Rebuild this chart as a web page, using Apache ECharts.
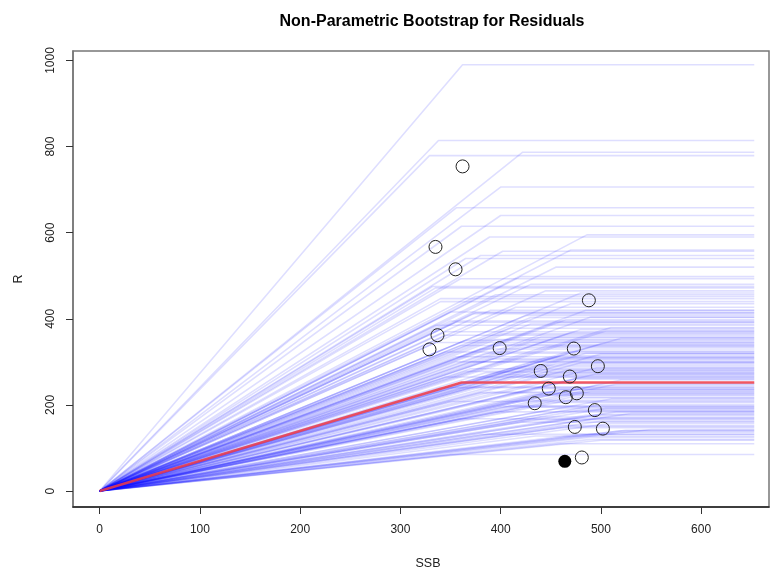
<!DOCTYPE html>
<html>
<head>
<meta charset="utf-8">
<script src="https://cdn.jsdelivr.net/npm/echarts@6/dist/echarts.min.js"></script>
<style>
  html, body { margin:0; padding:0; background:#fff; }
  #chart { width:770px; height:575px; }
</style>
</head>
<body>
<div id="chart"></div>
<script>
// tick labels
var xTicks = [0, 100, 200, 300, 400, 500, 600];
var yTicks = [0, 200, 400, 600, 800, 1000];

// bootstrap hockey sticks: SSB where the plateau starts, and plateau level
var bootBreak = [362, 338, 329, 422, 400, 356, 400, 361, 486, 389,
                 402, 470, 380, 420, 360, 332, 445, 395, 340, 470,
                 415, 350, 490, 372, 430, 455, 335, 480, 400, 440,
                 365, 500, 420, 345, 460, 390, 480, 430, 370, 450,
                 410, 495, 440, 380, 470, 420, 500, 455, 395, 485,
                 430, 510, 460, 520, 490, 500, 460, 350, 350, 410,
                 470, 360, 430, 380, 500, 445, 355, 415, 465, 400,
                 520, 440, 370, 490, 430, 510, 450, 400, 480, 530,
                 440, 500, 460, 550, 480, 520, 500, 420, 460, 345,
                 385, 470, 520, 390, 340, 455, 365, 430, 480, 510,
                 335, 375, 425, 465, 505, 345, 395, 445, 485, 355,
                 405, 455, 495, 365, 415, 475, 515, 340, 390, 440,
                 480, 350, 410, 460, 500, 360, 420, 470, 525, 380,
                 435, 490, 370, 425, 475, 335, 385, 450, 505, 345,
                 400, 460, 515, 355, 410, 465, 495, 375, 430, 485];
var bootPlateau = [990, 814, 779, 787, 706, 658, 640, 615, 595, 590,
                   557, 560, 547, 498, 493, 475, 465, 456, 447, 435,
                   427, 416, 404, 412, 403, 392, 385, 375, 365, 358,
                   350, 342, 334, 323, 315, 307, 298, 292, 284, 274,
                   265, 245, 238, 228, 218, 211, 201, 191, 184, 176,
                   166, 157, 147, 137, 125, 118, 110, 85, 395, 378,
                   368, 338, 346, 330, 318, 310, 300, 288, 280, 270,
                   258, 250, 242, 232, 224, 214, 206, 196, 188, 180,
                   172, 162, 152, 143, 132, 140, 170, 195, 235, 265,
                   275, 325, 355, 420, 440, 520, 540, 480, 460, 380,
                   472, 452, 408, 398, 372, 362, 352, 336, 320, 312,
                   304, 296, 286, 278, 268, 260, 248, 240, 230, 222,
                   216, 208, 198, 186, 178, 168, 160, 150, 141, 132,
                   128, 120, 300, 282, 262, 345, 320, 226, 192, 370,
                   340, 236, 184, 392, 356, 310, 272, 414, 388, 420];
var ssbEnd = 653;

// fitted hockey stick
var fitBreak = 361;
var fitPlateau = 252;

// observations
var obsSSB = [362, 335, 355, 488, 337, 329, 399, 473, 497, 440,
              469, 448, 476, 465, 434, 494, 474, 502, 481];
var obsR = [754, 567, 515, 443, 362, 329, 332, 331, 290, 279,
            266, 238, 227, 218, 204, 188, 149, 145, 78];
var lastSSB = [464];
var lastR = [69];

var series = [];
for (var i = 0; i < bootBreak.length; i++) {
  series.push({
    type: 'line',
    data: [[0, 0], [bootBreak[i], bootPlateau[i]], [ssbEnd, bootPlateau[i]]],
    showSymbol: false,
    silent: true,
    lineStyle: { color: 'rgba(0,0,255,0.13)', width: 1.6 },
    z: 2
  });
}
series.push({
  type: 'line',
  data: [[0, 0], [fitBreak, fitPlateau], [ssbEnd, fitPlateau]],
  showSymbol: false,
  silent: true,
  lineStyle: { color: 'rgba(240,60,70,0.85)', width: 2.6 },
  z: 3
});
series.push({
  type: 'scatter',
  data: obsSSB.map(function(v, k){ return [v, obsR[k]]; }),
  symbol: 'circle',
  symbolSize: 13,
  itemStyle: { color: 'rgba(0,0,0,0)', borderColor: '#222', borderWidth: 1, opacity: 1 },
  z: 4
});
series.push({
  type: 'scatter',
  data: lastSSB.map(function(v, k){ return [v, lastR[k]]; }),
  symbol: 'circle',
  symbolSize: 13,
  itemStyle: { color: '#000', opacity: 1 },
  z: 4
});

var myChart = echarts.init(document.getElementById('chart'));
var option = {
  animation: false,
  textStyle: { fontFamily: 'Liberation Sans, Arial, sans-serif' },
  title: {
    text: 'Non-Parametric Bootstrap for Residuals',
    left: 427, top: 9,
    textAlign: 'center',
    textStyle: { fontSize: 16, fontWeight: 'bold', color: '#000' }
  },
  grid: {
    left: 73, top: 51, right: 1, bottom: 68,
    show: true, borderColor: '#777', borderWidth: 1.5
  },
  xAxis: {
    type: 'value',
    min: -26.6, max: 667.7,
    name: 'SSB',
    nameLocation: 'middle',
    nameGap: 50,
    nameTextStyle: { fontSize: 12.5, color: '#222', padding: [0, 0, 0, 14] },
    axisLine: { show: true, onZero: false, lineStyle: { color: '#222', width: 1.5 } },
    axisTick: { show: true, length: 7, customValues: xTicks, lineStyle: { color: '#333' } },
    axisLabel: { customValues: xTicks, margin: 17, fontSize: 12, color: '#222' },
    splitLine: { show: false }
  },
  yAxis: {
    type: 'value',
    min: -37, max: 1022,
    name: 'R',
    nameLocation: 'middle',
    nameGap: 48,
    nameRotate: 90,
    nameTextStyle: { fontSize: 12.5, color: '#222' },
    axisLine: { show: true, onZero: false, lineStyle: { color: '#777', width: 1.5 } },
    axisTick: { show: true, length: 7, customValues: yTicks, lineStyle: { color: '#333' } },
    axisLabel: {
      customValues: yTicks, rotate: 90, margin: 16, fontSize: 12, color: '#222',
      formatter: function(v){ return String(v); }
    },
    splitLine: { show: false }
  },
  series: series
};
myChart.setOption(option);
</script>
</body>
</html>
